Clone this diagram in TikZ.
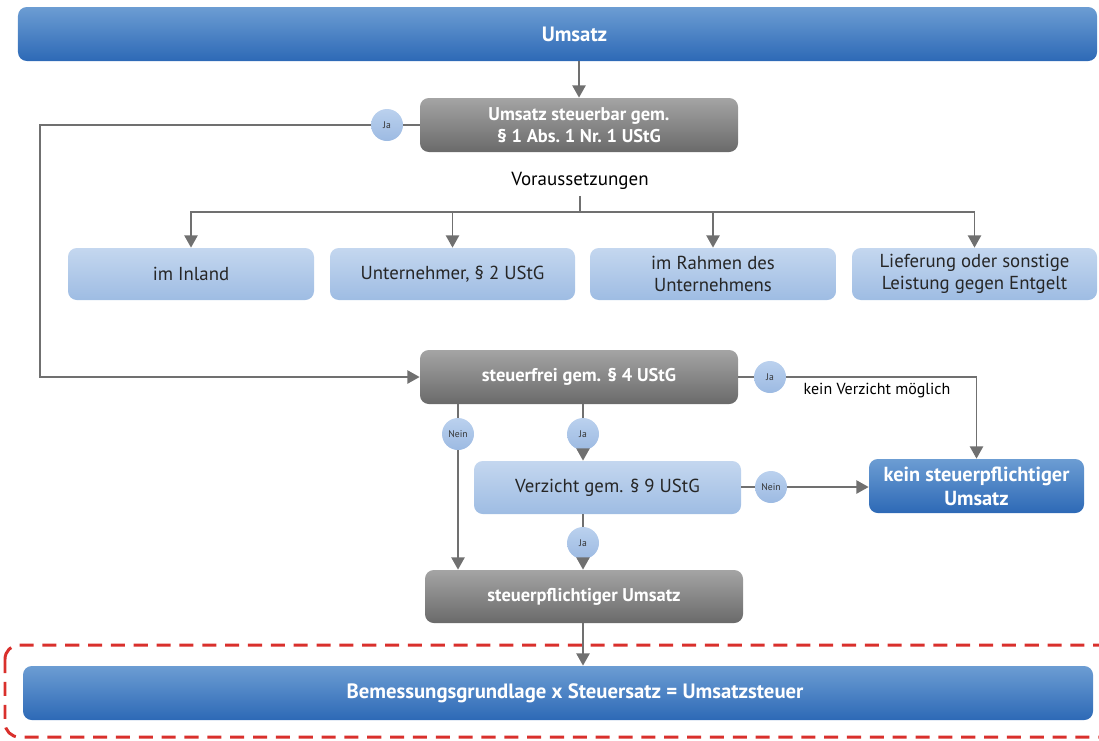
\documentclass[tikz,border=0pt]{standalone}
\usepackage{fontspec}
\setmainfont{PT Sans}
\usepackage{xcolor}
\usepackage{tikz}
\usetikzlibrary{arrows.meta,positioning,calc}

\definecolor{blueTop}{HTML}{6C9DD3}
\definecolor{blueBot}{HTML}{2D69B6}
\definecolor{grayTop}{HTML}{A4A4A4}
\definecolor{grayBot}{HTML}{6A6A6A}
\definecolor{lightTop}{HTML}{C4D7EF}
\definecolor{lightBot}{HTML}{9EBCE3}
\definecolor{dotTop}{HTML}{BBD1EE}
\definecolor{dotBot}{HTML}{9CBAE2}
\definecolor{lineGray}{HTML}{707070}
\definecolor{dashRed}{HTML}{D9302C}

\tikzset{
  box/.style={rounded corners=5pt,align=center,inner sep=2pt,minimum height=1.08cm},
  bluebox/.style={box,top color=blueTop,bottom color=blueBot,text=white,
    font=\fontsize{11.8}{13.5}\selectfont\bfseries},
  graybox/.style={box,top color=grayTop,bottom color=grayBot,text=white,
    font=\fontsize{10.5}{12.5}\selectfont\bfseries,minimum width=6.36cm},
  lightbox/.style={box,top color=lightTop,bottom color=lightBot,text=black!85,
    font=\fontsize{10.7}{12.5}\selectfont},
  yesno/.style={circle,top color=dotTop,bottom color=dotBot,minimum size=0.64cm,
    inner sep=0pt,text=black!80,font=\fontsize{5.5}{6}\selectfont},
  conn/.style={draw=lineGray,line width=1.1pt},
  arr/.style={conn,-{Triangle[length=7pt,width=7.5pt]},color=lineGray}
}

\begin{document}
\begin{tikzpicture}
	\clip (0,0) rectangle (21.98,-14.8);
	% boxes
	\node[bluebox,minimum width=21.58cm] (umsatz) at (11.15,-0.68) {\hspace*{0.68cm}Umsatz};
	\node[graybox] (steuerbar) at (11.58,-2.5) {Umsatz steuerbar gem.\\\S~1 Abs.~1 Nr.~1 UStG};
	\node[font=\fontsize{10.8}{12}\selectfont] (vor) at (11.6,-3.62) {Voraussetzungen};
	\coordinate (split) at (11.6,-4.24);
	\node[lightbox,minimum width=4.92cm,minimum height=1.04cm] (inland) at (3.82,-5.48) {im Inland};
	\node[lightbox,minimum width=4.9cm,minimum height=1.04cm] (unternehmer) at (9.05,-5.48) {Unternehmer, \S~2 UStG};
	\node[lightbox,minimum width=4.92cm,minimum height=1.04cm] (rahmen) at (14.26,-5.48) {im Rahmen des\\Unternehmens};
	\node[lightbox,minimum width=4.9cm,minimum height=1.04cm] (lieferung) at (19.49,-5.48) {Lieferung oder sonstige\\Leistung gegen Entgelt};
	\node[graybox] (steuerfrei) at (11.58,-7.54) {steuerfrei gem. \S~4 UStG};
	\node[bluebox,minimum width=4.3cm,font=\fontsize{11.6}{13.5}\selectfont\bfseries] (kein) at (19.53,-9.72) {kein steuerpflichtiger\\Umsatz};
	\node[lightbox,minimum width=5.34cm,minimum height=1.06cm] (verzicht) at (12.15,-9.75) {Verzicht gem. \S~9 UStG};
	\node[graybox,minimum height=1.06cm] (pflichtig) at (11.68,-11.93) {steuerpflichtiger Umsatz};
	\node[bluebox,minimum width=21.4cm] (bemessung) at (11.16,-13.86) {\hspace*{0.68cm}Bemessungsgrundlage x Steuersatz = Umsatzsteuer};
	\node[font=\fontsize{9.1}{11}\selectfont] (kvm) at (17.54,-7.82) {kein Verzicht möglich};
	% Ja / Nein
	\node[yesno] (ja1) at (7.74,-2.5) {Ja};
	\node[yesno] (ja2) at (15.4,-7.54) {Ja};
	\node[yesno] (nein1) at (9.16,-8.68) {Nein};
	\node[yesno] (ja3) at (11.66,-8.68) {Ja};
	\node[yesno] (nein2) at (15.42,-9.74) {Nein};
	\node[yesno] (ja4) at (11.66,-10.86) {Ja};
	\coordinate (back) at (0.8,-2.5);
	% connectors
	\draw[arr] (umsatz.south -| steuerbar) -- (steuerbar.north);
	\draw[conn] (steuerbar) -- (ja1);
	\draw[arr] (ja1) -- (back) |- (steuerfrei);
	\draw[conn] (vor) -- (split);
	\draw[arr] (split) -| (inland);
	\draw[arr] (split) -| (unternehmer);
	\draw[arr] (split) -| (rahmen);
	\draw[arr] (split) -| (lieferung);
	\draw[conn] (steuerfrei) -- (ja2);
	\draw[arr] (ja2) -| (kein);
	\draw[conn] (steuerfrei.south -| nein1) -- (nein1);
	\draw[arr] (nein1) -- (nein1 |- pflichtig.north);
	\draw[conn] (steuerfrei.south -| ja3) -- (ja3);
	\draw[arr] (ja3) -- (ja3 |- verzicht.north);
	\draw[conn] (verzicht.east |- nein2) -- (nein2);
	\draw[arr] (nein2) -- (nein2 -| kein.west);
	\draw[conn] (verzicht.south -| ja4) -- (ja4);
	\draw[arr] (ja4) -- (ja4 |- pflichtig.north);
	\draw[arr] (pflichtig.south -| ja4) -- (bemessung.north -| ja4);
	% dashed frame
	\draw[dashRed,line width=1.7pt,dash pattern=on 8pt off 5pt,rounded corners=8pt] (0.1,-12.9) rectangle (22.4,-14.74);
\end{tikzpicture}
\end{document}
